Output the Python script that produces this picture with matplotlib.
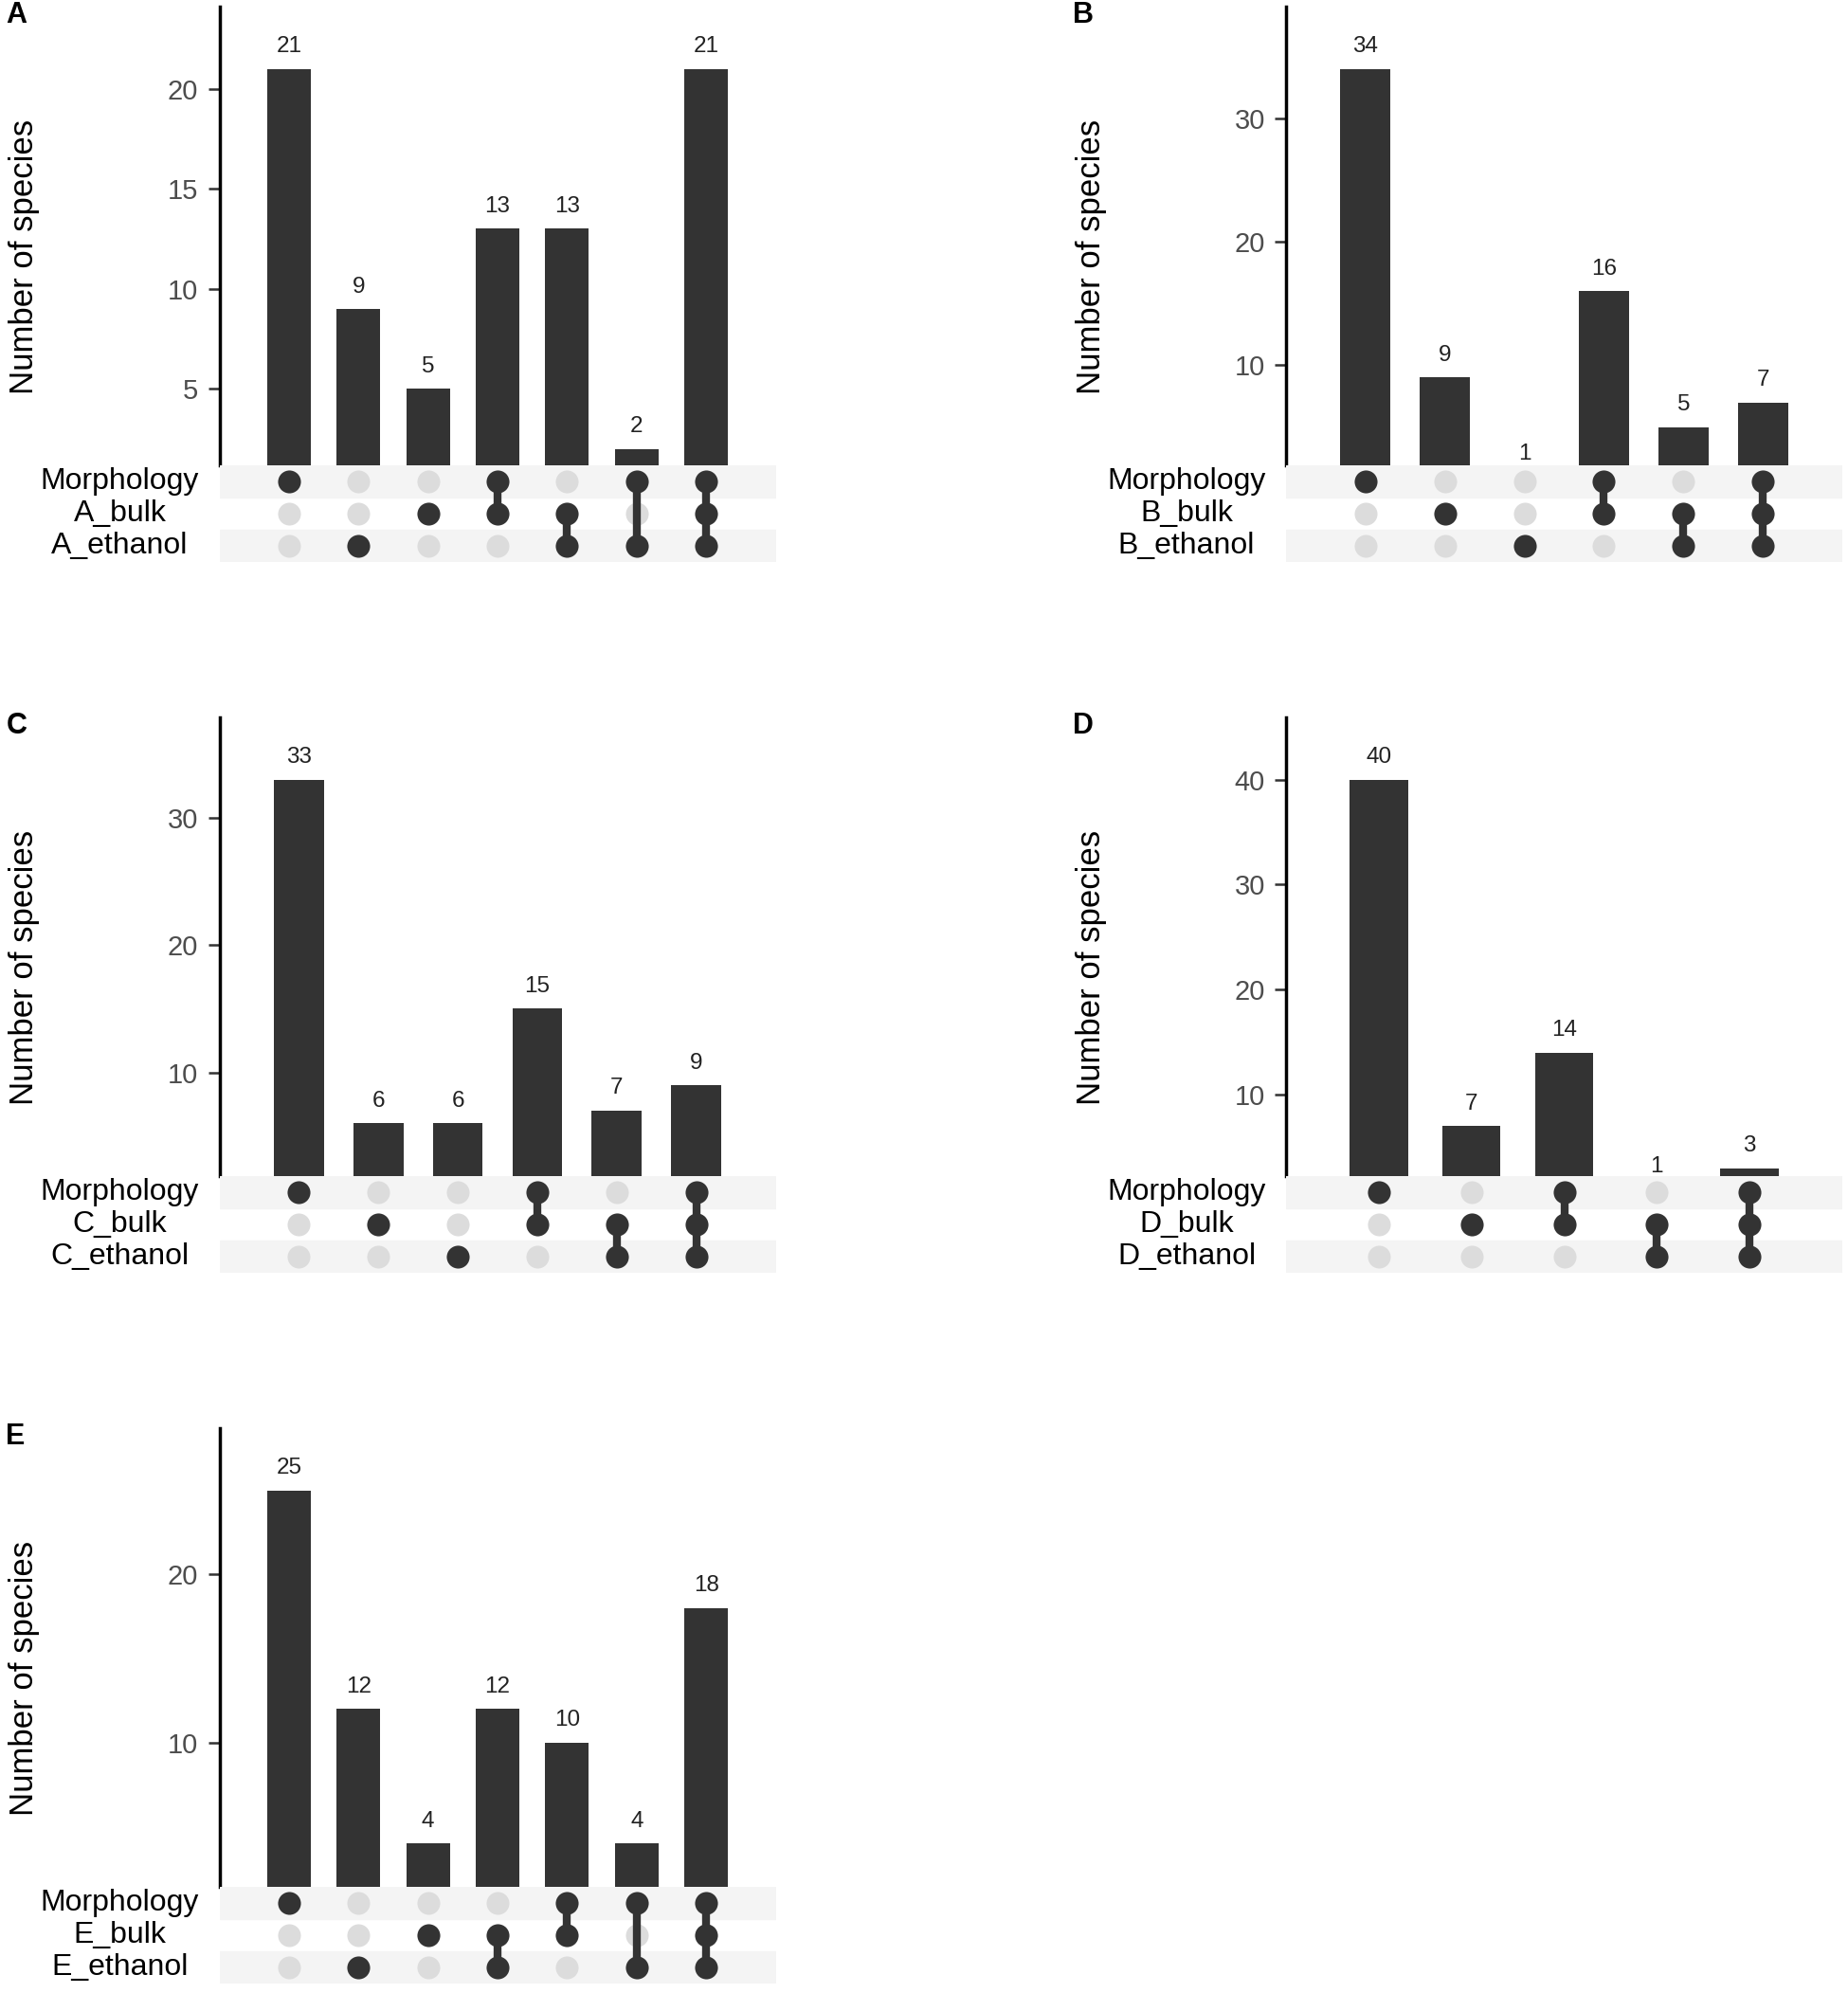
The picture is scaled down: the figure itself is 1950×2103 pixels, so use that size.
import matplotlib
matplotlib.use("Agg")
from matplotlib import pyplot as plt
from matplotlib import transforms

plt.rcParams['font.family'] = ['Liberation Sans', 'DejaVu Sans']

# rows of the matrix, top to bottom
ROWS = ["Morphology", "{}_bulk", "{}_ethanol"]

# panel A
counts_a = [21, 9, 5, 13, 13, 2, 21]
sets_a = [(1, 0, 0), (0, 0, 1), (0, 1, 0), (1, 1, 0), (0, 1, 1), (1, 0, 1), (1, 1, 1)]
ticks_a = [5, 10, 15, 20]

# panel B
counts_b = [34, 9, 1, 16, 5, 7]
sets_b = [(1, 0, 0), (0, 1, 0), (0, 0, 1), (1, 1, 0), (0, 1, 1), (1, 1, 1)]
ticks_b = [10, 20, 30]

# panel C
counts_c = [33, 6, 6, 15, 7, 9]
sets_c = [(1, 0, 0), (0, 1, 0), (0, 0, 1), (1, 1, 0), (0, 1, 1), (1, 1, 1)]
ticks_c = [10, 20, 30]

# panel D
counts_d = [40, 7, 14, 1, 3]
sets_d = [(1, 0, 0), (0, 1, 0), (1, 1, 0), (0, 1, 1), (1, 1, 1)]
ticks_d = [10, 20, 30, 40]

# panel E
counts_e = [25, 12, 4, 12, 10, 4, 18]
sets_e = [(1, 0, 0), (0, 0, 1), (0, 1, 0), (0, 1, 1), (1, 1, 0), (1, 0, 1), (1, 1, 1)]
ticks_e = [10, 20]

W, H = 1950, 2103
DARK = '#333333'
LIGHT = '#dcdcdc'
STRIPE = '#f4f4f4'


def fx(x):
    return x / W


def fy(y):
    return 1 - y / H


def draw_upset(fig, letter, counts, sets, ticks, axis_x, top):
    bar_h, mat_h, width = 484, 102, 587
    ax = fig.add_axes([fx(axis_x), fy(top + bar_h), width / W, bar_h / H])
    axm = fig.add_axes([fx(axis_x), fy(top + bar_h + mat_h), width / W, mat_h / H])

    n = len(counts)
    xs = list(range(1, n + 1))
    top_val = max(counts)

    ax.bar(xs, counts, width=0.63, color=DARK)
    for x, v in zip(xs, counts):
        ax.annotate(str(v), (x, v), xytext=(0, 12.5), textcoords='offset points',
                    ha='center', va='baseline', fontsize=17.5, color='#222222',
                    annotation_clip=False)
    ax.set_xlim(0, n + 1)
    ax.set_ylim(0.056 * top_val, 1.148 * top_val)
    ax.set_yticks(ticks)
    ax.set_xticks([])
    for s in ('top', 'right', 'bottom'):
        ax.spines[s].set_visible(False)
    ax.spines['left'].set_linewidth(2.5)
    ax.spines['left'].set_color('black')
    ax.tick_params(axis='y', labelsize=21, labelcolor='#4d4d4d', length=9,
                   width=1.8, color=DARK, pad=7)

    # matrix
    axm.set_xlim(0, n + 1)
    axm.set_ylim(2.5, -0.5)
    axm.axis('off')
    for r in (0, 2):
        axm.axhspan(r - 0.5, r + 0.5, color=STRIPE, zorder=0)
    for x in xs:
        axm.scatter([x] * 3, [0, 1, 2], s=300, color=LIGHT, zorder=1, linewidths=0)
    for x, member in zip(xs, sets):
        rows_in = [r for r, m in enumerate(member) if m]
        if len(rows_in) > 1:
            axm.plot([x, x], [min(rows_in), max(rows_in)], color=DARK, lw=6,
                     solid_capstyle='butt', zorder=2)
        axm.scatter([x] * len(rows_in), rows_in, s=300, color=DARK, zorder=3,
                    linewidths=0)

    trans = transforms.blended_transform_factory(fig.transFigure, axm.transData)
    for r, name in enumerate(ROWS):
        axm.text(fx(axis_x - 105), r, name.format(letter), transform=trans,
                 ha='center', va='center', fontsize=23, color='black')

    fig.text(fx(axis_x - 206), fy(top + 264), 'Number of species', rotation=90,
             ha='center', va='center', fontsize=25, color='black')
    fig.text(fx(axis_x - 225), fy(top - 6), letter, ha='left', va='top',
             fontsize=22, fontweight='bold', color='black')


if __name__ == '__main__':
    fig = plt.figure(figsize=(W / 100, H / 100), dpi=100)
    draw_upset(fig, 'A', counts_a, sets_a, ticks_a, 231.5, 7)
    draw_upset(fig, 'B', counts_b, sets_b, ticks_b, 1357, 7)
    draw_upset(fig, 'C', counts_c, sets_c, ticks_c, 231.5, 757)
    draw_upset(fig, 'D', counts_d, sets_d, ticks_d, 1357, 757)
    draw_upset(fig, 'E', counts_e, sets_e, ticks_e, 231.5, 1507)
    fig.savefig('out.png', dpi=100)
